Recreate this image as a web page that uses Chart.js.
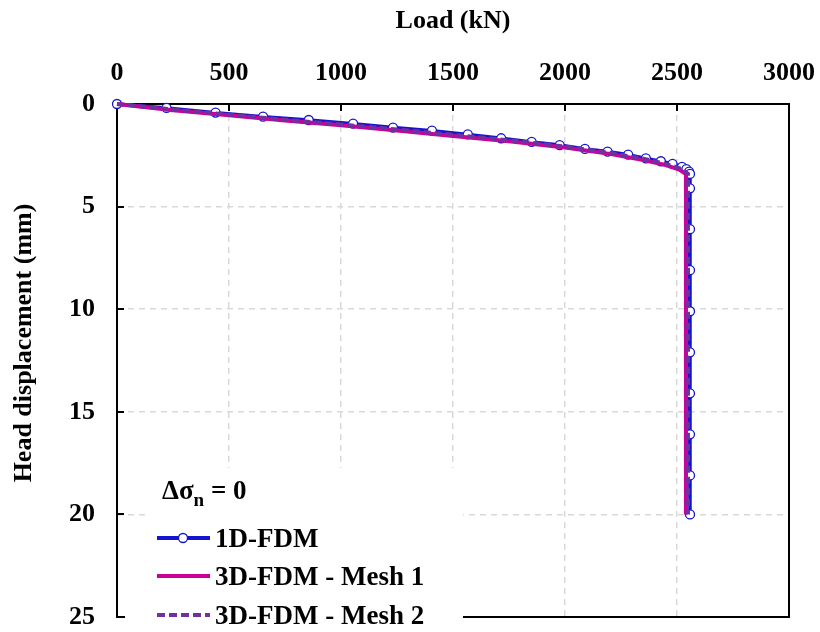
<!DOCTYPE html>
<html>
<head>
<meta charset="utf-8">
<script src="https://cdn.jsdelivr.net/npm/chart.js@4.4.0/dist/chart.umd.min.js"></script>
<style>
  html, body { margin: 0; padding: 0; background: #fff; }
  #wrap { width: 820px; height: 632px; }
</style>
</head>
<body>
<div id="wrap"><canvas id="chart" width="820" height="632"></canvas></div>
<script>
// Load (kN) vs head displacement (mm)
const loadTicks = [0, 500, 1000, 1500, 2000, 2500, 3000];
const dispTicks = [0, 5, 10, 15, 20, 25];

const fdm1dLoad = [0, 221, 440, 652, 856, 1054, 1232, 1406, 1566, 1715, 1851, 1976, 2089, 2190, 2282, 2361, 2428, 2480, 2522, 2542, 2554, 2558, 2558, 2558, 2558, 2558, 2558, 2558, 2558, 2558, 2558];
const fdm1dDisp = [0, 0.19, 0.42, 0.62, 0.78, 0.96, 1.15, 1.30, 1.48, 1.67, 1.85, 2.00, 2.19, 2.32, 2.47, 2.65, 2.79, 2.92, 3.06, 3.17, 3.30, 3.41, 4.11, 6.1, 8.1, 10.1, 12.1, 14.1, 16.1, 18.1, 20.0];

const mesh1Load = [0, 250, 500, 750, 1000, 1250, 1500, 1750, 2000, 2200, 2350, 2450, 2510, 2540, 2540];
const mesh1Disp = [0, 0.30, 0.55, 0.80, 1.04, 1.29, 1.56, 1.82, 2.12, 2.43, 2.73, 2.98, 3.20, 3.42, 20.0];

const mesh2Load = [0, 250, 500, 750, 1000, 1250, 1500, 1750, 2000, 2200, 2350, 2450, 2520, 2549, 2549];
const mesh2Disp = [0, 0.27, 0.52, 0.77, 1.00, 1.24, 1.50, 1.77, 2.07, 2.38, 2.67, 2.92, 3.16, 3.40, 20.0];

const FONT = "'Liberation Serif', 'Times New Roman', serif";
const BLUE = '#1414CC';
const MAGENTA = '#CC0099';
const PURPLE = '#7030A0';

const toPoints = (xs, ys) => xs.map((x, i) => ({ x, y: ys[i] }));

// frame + inward tick marks, drawn under the curves
const framePlugin = {
  id: 'frame',
  beforeDatasetsDraw(chart) {
    const { ctx, chartArea: a, scales } = chart;
    ctx.save();
    ctx.strokeStyle = '#000';
    ctx.lineWidth = 2;
    ctx.strokeRect(a.left, a.top, a.right - a.left, a.bottom - a.top);
    ctx.beginPath();
    loadTicks.forEach(v => {
      const x = Math.round(scales.x.getPixelForValue(v));
      ctx.moveTo(x, a.top);
      ctx.lineTo(x, a.top + 7);
    });
    dispTicks.forEach(v => {
      const y = Math.round(scales.y.getPixelForValue(v));
      ctx.moveTo(a.left, y);
      ctx.lineTo(a.left + 7, y);
    });
    ctx.stroke();

    // y axis title, placed like the original (a bit above centre)
    ctx.fillStyle = '#000';
    ctx.font = 'bold 26px ' + FONT;
    ctx.textAlign = 'center';
    ctx.textBaseline = 'middle';
    ctx.translate(24, 343);
    ctx.rotate(-Math.PI / 2);
    ctx.fillText('Head displacement (mm)', 0, 0);
    ctx.restore();
  }
};

// legend sits inside the plot, lower left, like the original
const legendPlugin = {
  id: 'innerLegend',
  afterDraw(chart) {
    const { ctx } = chart;
    ctx.save();
    ctx.fillStyle = '#fff';
    ctx.fillRect(147, 468, 316, 52);
    ctx.fillRect(125, 520, 338, 112);

    ctx.fillStyle = '#000';
    ctx.textBaseline = 'alphabetic';
    ctx.font = 'bold 27px ' + FONT;
    ctx.fillText('\u0394\u03C3', 162, 499);
    let w = ctx.measureText('\u0394\u03C3').width;
    ctx.font = 'bold 19px ' + FONT;
    ctx.fillText('n', 162 + w, 506);
    const wn = ctx.measureText('n').width;
    ctx.font = 'bold 27px ' + FONT;
    ctx.fillText(' = 0', 162 + w + wn, 499);

    const rows = [
      { y: 538, label: '1D-FDM', color: BLUE, dash: [], marker: true },
      { y: 576, label: '3D-FDM - Mesh 1', color: MAGENTA, dash: [], marker: false },
      { y: 615, label: '3D-FDM - Mesh 2', color: PURPLE, dash: [8, 4], marker: false }
    ];
    rows.forEach(r => {
      ctx.strokeStyle = r.color;
      ctx.lineWidth = 4;
      ctx.setLineDash(r.dash);
      ctx.beginPath();
      ctx.moveTo(157, r.y);
      ctx.lineTo(210, r.y);
      ctx.stroke();
      ctx.setLineDash([]);
      if (r.marker) {
        ctx.beginPath();
        ctx.arc(183, r.y, 4.5, 0, Math.PI * 2);
        ctx.fillStyle = '#fff';
        ctx.fill();
        ctx.lineWidth = 1.3;
        ctx.stroke();
      }
      ctx.fillStyle = '#000';
      ctx.font = 'bold 27px ' + FONT;
      ctx.fillText(r.label, 215, r.y + 9);
    });
    ctx.restore();
  }
};

new Chart(document.getElementById('chart').getContext('2d'), {
  type: 'scatter',
  data: {
    datasets: [
      {
        label: '1D-FDM',
        data: toPoints(fdm1dLoad, fdm1dDisp),
        showLine: true,
        borderColor: BLUE,
        borderWidth: 3.5,
        pointRadius: 4.5,
        pointBorderWidth: 1.3,
        pointBorderColor: BLUE,
        pointBackgroundColor: '#fff',
        clip: false,
        order: 3
      },
      {
        label: '3D-FDM - Mesh 1',
        data: toPoints(mesh1Load, mesh1Disp),
        showLine: true,
        borderColor: MAGENTA,
        borderWidth: 4,
        pointRadius: 0,
        clip: false,
        order: 2
      },
      {
        label: '3D-FDM - Mesh 2',
        data: toPoints(mesh2Load, mesh2Disp),
        showLine: true,
        borderColor: PURPLE,
        borderWidth: 4,
        borderDash: [7, 4],
        pointRadius: 0,
        clip: false,
        order: 1
      }
    ]
  },
  options: {
    responsive: false,
    animation: false,
    devicePixelRatio: 1,
    layout: { padding: { left: 0, top: 0, right: 31, bottom: 15 } },
    plugins: {
      legend: { display: false },
      tooltip: { enabled: false }
    },
    scales: {
      x: {
        type: 'linear',
        position: 'top',
        min: 0,
        max: 3000,
        afterFit: (scale) => {
          scale.height = 104;
          scale.paddingLeft = 0;
          scale.paddingRight = 0;
        },
        afterBuildTicks: (scale) => { scale.ticks = loadTicks.map(v => ({ value: v })); },
        ticks: {
          color: '#000',
          font: { family: FONT, size: 26, weight: 'bold' },
          padding: 15,
          maxRotation: 0,
          callback: (v) => String(v)
        },
        grid: { color: '#d9d9d9', lineWidth: 1.5, drawTicks: false },
        border: { display: false, dash: [6, 5] },
        title: {
          display: true,
          text: 'Load (kN)',
          color: '#000',
          font: { family: FONT, size: 26, weight: 'bold' },
          padding: { top: 6, bottom: 0 }
        }
      },
      y: {
        type: 'linear',
        reverse: true,
        min: 0,
        max: 25,
        afterFit: (scale) => {
          scale.width = 117;
          scale.paddingTop = 0;
          scale.paddingBottom = 0;
        },
        afterBuildTicks: (scale) => { scale.ticks = dispTicks.map(v => ({ value: v })); },
        ticks: {
          color: '#000',
          font: { family: FONT, size: 26, weight: 'bold' },
          padding: 22,
          callback: (v) => String(v)
        },
        grid: { color: '#d9d9d9', lineWidth: 1.5, drawTicks: false },
        border: { display: false, dash: [6, 5] },
        title: { display: false }
      }
    }
  },
  plugins: [framePlugin, legendPlugin]
});
</script>
</body>
</html>
